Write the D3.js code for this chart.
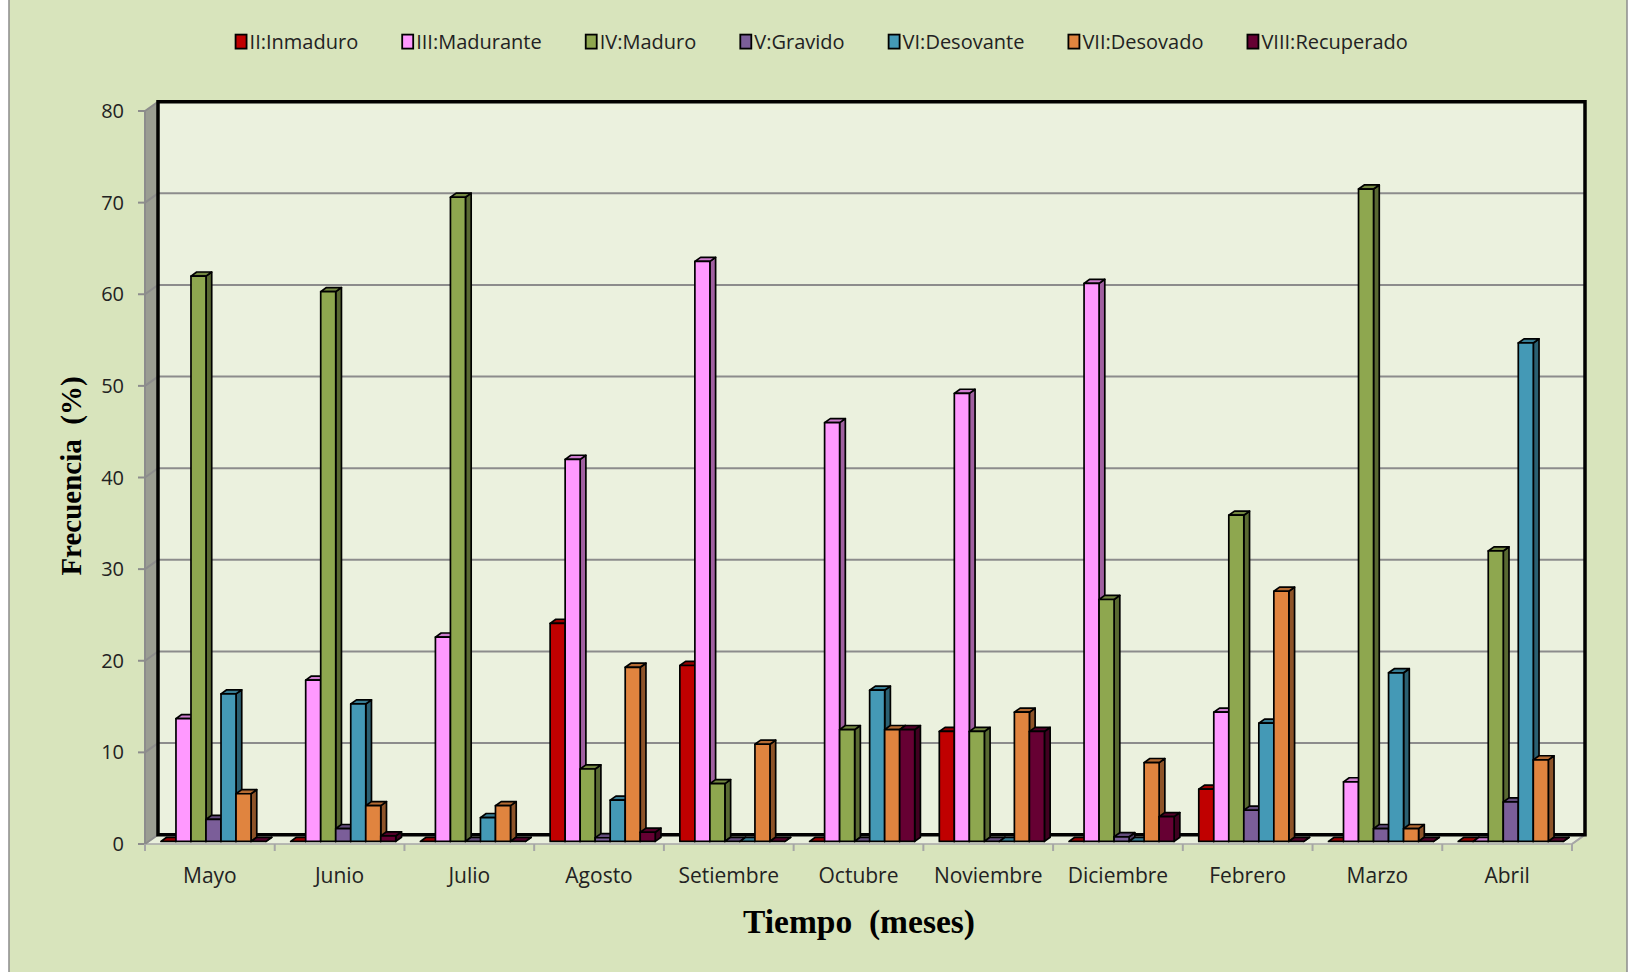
<!DOCTYPE html>
<html>
<head>
<meta charset="utf-8">
<script src="https://cdn.jsdelivr.net/npm/d3@7"></script>
<style>
  body { margin: 0; background: #ffffff; }
  svg { display: block; }
  text { white-space: pre; }
</style>
</head>
<body>
<svg id="chart" width="1630" height="972"></svg>
<script>
// Monthly frequency (%) of gonad maturity stages
const months = ["Mayo", "Junio", "Julio", "Agosto", "Setiembre", "Octubre",
                "Noviembre", "Diciembre", "Febrero", "Marzo", "Abril"];

const seriesNames = ["II:Inmaduro", "III:Madurante", "IV:Maduro", "V:Gravido",
                     "VI:Desovante", "VII:Desovado", "VIII:Recuperado"];

const inmaduro   = [0, 0, 0, 23.8, 19.2, 0, 12.0, 0, 5.7, 0, 0];
const madurante  = [13.4, 17.6, 22.3, 41.7, 63.3, 45.7, 48.9, 60.9, 14.1, 6.5, 0];
const maduro     = [61.7, 60.0, 70.3, 7.9, 6.3, 12.2, 12.0, 26.4, 35.6, 71.2, 31.7];
const gravido    = [2.4, 1.4, 0, 0.4, 0, 0, 0, 0.5, 3.4, 1.4, 4.3];
const desovante  = [16.1, 15.0, 2.6, 4.5, 0, 16.5, 0, 0, 12.9, 18.4, 54.4];
const desovado   = [5.2, 3.9, 3.9, 19.0, 10.6, 12.2, 14.1, 8.6, 27.3, 1.4, 8.9];
const recuperado = [0, 0.6, 0, 1.0, 0, 12.2, 12.0, 2.7, 0, 0, 0];

const seriesValues = [inmaduro, madurante, maduro, gravido, desovante, desovado, recuperado];
const seriesColors = ["#c00000", "#ff99ff", "#8ea74f", "#7b5e99", "#4499b6", "#e0843f", "#660033"];

const yTicks = [0, 10, 20, 30, 40, 50, 60, 70, 80];

const yTitle = "Frecuencia  (%)";
const xTitle = "Tiempo  (meses)";

const W = 1630, H = 972;
const svg = d3.select("#chart");

// Chart area background
svg.append("rect")
  .attr("x", 9).attr("y", -2).attr("width", 1618).attr("height", H + 4)
  .attr("fill", "#d8e4bc").attr("stroke", "#8c8c8c").attr("stroke-width", 1.5);

// Scales: front edge of the floor / side wall
const x = d3.scaleBand().domain(months).range([145, 1572]);
const y = d3.scaleLinear().domain([0, 80]).range([844, 111]);
const sub = d3.scaleBand().domain(seriesNames).range([0, x.bandwidth()]).paddingOuter(0.82);

// Oblique depth of the floor, and where the bars sit inside it
const DX = 13, DY = -9.3;
const barFront = 0.28, barDepth = 0.44;

const [x0, x1] = x.range();
const yBot = y(0), yTop = y(80);
const pts = arr => arr.map(p => p.join(",")).join(" ");

// Back wall
svg.append("polygon")
  .attr("points", pts([[x0 + DX, yBot + DY], [x1 + DX, yBot + DY], [x1 + DX, yTop + DY], [x0 + DX, yTop + DY]]))
  .attr("fill", "#ebf1de");

// Side wall
svg.append("polygon")
  .attr("points", pts([[x0, yBot], [x0 + DX, yBot + DY], [x0 + DX, yTop + DY], [x0, yTop]]))
  .attr("fill", "#9a9d92");

// Floor
svg.append("polygon")
  .attr("points", pts([[x0, yBot], [x1, yBot], [x1 + DX, yBot + DY], [x0 + DX, yBot + DY]]))
  .attr("fill", "#e9efdc").attr("stroke", "#a6a6a6").attr("stroke-width", 1.5);

// Gridlines on back wall and side wall, plus tick marks
const grid = svg.append("g").attr("stroke", "#8c8c8c").attr("stroke-width", 2);
yTicks.filter(t => t > 0 && t < 80).forEach(t => {
  grid.append("line")
    .attr("x1", x0 + DX).attr("x2", x1 + DX)
    .attr("y1", y(t) + DY).attr("y2", y(t) + DY);
});
yTicks.forEach(t => {
  grid.append("line")
    .attr("x1", x0).attr("x2", x0 + DX)
    .attr("y1", y(t)).attr("y2", y(t) + DY);
  grid.append("line")
    .attr("x1", x0 - 7).attr("x2", x0)
    .attr("y1", y(t)).attr("y2", y(t));
});
grid.append("line")
  .attr("x1", x0).attr("x2", x0).attr("y1", yBot).attr("y2", yTop);

// Category tick marks along the front floor edge
const catEdges = months.map(m => x(m)).concat([x1]);
svg.append("g").attr("stroke", "#a6a6a6").attr("stroke-width", 2)
  .selectAll("line").data(catEdges).join("line")
  .attr("x1", d => d).attr("x2", d => d)
  .attr("y1", yBot).attr("y2", yBot + 7);
svg.append("line")
  .attr("x1", x1).attr("x2", x1 + DX).attr("y1", yBot).attr("y2", yBot + DY)
  .attr("stroke", "#a6a6a6").attr("stroke-width", 2);

// Back wall outline
svg.append("polygon")
  .attr("points", pts([[x0 + DX, yBot + DY], [x1 + DX, yBot + DY], [x1 + DX, yTop + DY], [x0 + DX, yTop + DY]]))
  .attr("fill", "none").attr("stroke", "#000").attr("stroke-width", 3.5)
  .attr("stroke-linejoin", "miter");

// Bars
const bars = [];
months.forEach((m, mi) => {
  seriesNames.forEach((s, si) => {
    bars.push({ month: m, series: s, color: seriesColors[si], value: seriesValues[si][mi] });
  });
});

const bw = sub.bandwidth();
const ddx = barDepth * DX, ddy = barDepth * DY;

const barG = svg.append("g").attr("stroke", "#000").attr("stroke-width", 1.7)
  .attr("stroke-linejoin", "round");

const bar = barG.selectAll("g.bar").data(bars).join("g").attr("class", "bar");

bar.each(function (d) {
  const g = d3.select(this);
  const bx = x(d.month) + sub(d.series) + barFront * DX;
  const yb = y(0) + barFront * DY;
  const yt = y(d.value) + barFront * DY;
  const c = d3.color(d.color);
  g.append("polygon")
    .attr("points", pts([[bx + bw, yb], [bx + bw + ddx, yb + ddy], [bx + bw + ddx, yt + ddy], [bx + bw, yt]]))
    .attr("fill", c.darker(1.3));
  g.append("polygon")
    .attr("points", pts([[bx, yt], [bx + ddx, yt + ddy], [bx + bw + ddx, yt + ddy], [bx + bw, yt]]))
    .attr("fill", c.darker(0.6));
  g.append("rect")
    .attr("x", bx).attr("y", yt).attr("width", bw).attr("height", Math.max(0, yb - yt))
    .attr("fill", d.color);
});

// Y tick labels
svg.append("g")
  .selectAll("text").data(yTicks).join("text")
  .attr("x", 124).attr("y", d => y(d))
  .attr("dy", "0.35em")
  .attr("text-anchor", "end")
  .attr("font-family", "'Open Sans', sans-serif")
  .attr("font-size", 20)
  .attr("fill", "#222")
  .text(d => d);

// Category labels
svg.append("g")
  .selectAll("text").data(months).join("text")
  .attr("x", d => x(d) + x.bandwidth() / 2).attr("y", 876)
  .attr("dy", "0.35em")
  .attr("text-anchor", "middle")
  .attr("font-family", "'Open Sans', sans-serif")
  .attr("font-size", 21)
  .attr("fill", "#222")
  .text(d => d);

// Axis titles
svg.append("text")
  .attr("transform", "translate(71,476) rotate(-90)")
  .attr("dy", "0.35em")
  .attr("text-anchor", "middle")
  .attr("font-family", "'Liberation Serif', 'Times New Roman', serif")
  .attr("font-weight", "bold")
  .attr("font-size", 29)
  .attr("fill", "#000")
  .text(yTitle);

svg.append("text")
  .attr("x", 859).attr("y", 921)
  .attr("dy", "0.35em")
  .attr("text-anchor", "middle")
  .attr("font-family", "'Liberation Serif', 'Times New Roman', serif")
  .attr("font-weight", "bold")
  .attr("font-size", 33.5)
  .attr("fill", "#000")
  .text(xTitle);

// Legend
const legend = svg.append("g");
const items = legend.selectAll("g").data(seriesNames).join("g");
items.append("rect")
  .attr("x", 0).attr("y", -7).attr("width", 11).attr("height", 14)
  .attr("fill", (d, i) => seriesColors[i])
  .attr("stroke", "#000").attr("stroke-width", 1.8);
items.append("text")
  .attr("x", 14).attr("y", 0).attr("dy", "0.35em")
  .attr("font-family", "'Open Sans', sans-serif")
  .attr("font-size", 20)
  .attr("fill", "#222")
  .text(d => d);

let cursor = 0;
items.each(function () {
  const g = d3.select(this);
  g.attr("transform", `translate(${cursor},0)`);
  cursor += 14 + g.select("text").node().getComputedTextLength() + 44;
});
const legendWidth = cursor - 44;
legend.attr("transform", `translate(${821.7 - legendWidth / 2},41.6)`);
</script>
</body>
</html>
